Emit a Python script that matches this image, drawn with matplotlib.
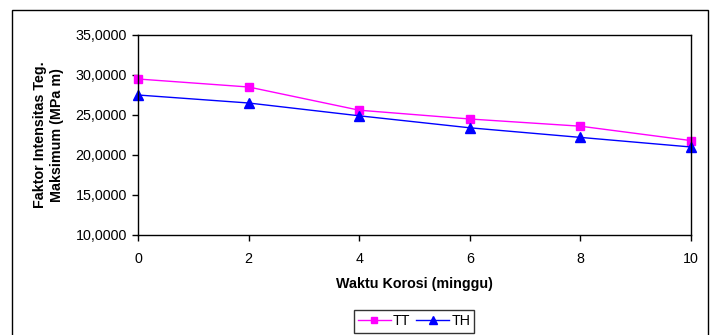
import matplotlib
matplotlib.use("Agg")
import matplotlib.pyplot as plt
from matplotlib.patches import Rectangle
from matplotlib.ticker import FuncFormatter

weeks = [0, 2, 4, 6, 8, 10]
tt = [29.5, 28.5, 25.6, 24.5, 23.6, 21.8]
th = [27.5, 26.5, 24.9, 23.4, 22.2, 21.0]

plt.rcParams['font.family'] = ['Liberation Sans', 'DejaVu Sans']

W, H = 716, 335
fs = 10.3
fig = plt.figure(figsize=(W / 100, H / 100), dpi=100)
ax = fig.add_axes([138 / W, 1 - 235 / H, (691 - 138) / W, 200 / H])

ax.plot(weeks, tt, color='#FF00FF', marker='s', markersize=5.5, linewidth=1, label='TT', clip_on=False)
ax.plot(weeks, th, color='#0000FF', marker='^', markersize=6.5, linewidth=1, label='TH', clip_on=False)

ax.set_xlim(0, 10)
ax.set_ylim(10, 35)
ax.set_xticks(range(0, 11, 2))
ax.set_yticks(range(10, 36, 5))
ax.yaxis.set_major_formatter(FuncFormatter(lambda v, p: f"{v:.4f}".replace('.', ',')))
ax.tick_params(direction='out', length=4, width=1, labelsize=fs, pad=4)
ax.tick_params(axis='x', pad=8)
for s in ax.spines.values():
    s.set_linewidth(1)
    s.set_color('black')

ax.set_xlabel('Waktu Korosi (minggu)', fontsize=fs, fontweight='bold', labelpad=8)
ax.set_ylabel('Faktor Intensitas Teg.\nMaksimum (MPa m)', fontsize=fs, fontweight='bold',
              labelpad=8, linespacing=1.35)

# outer chart frame
fig.patches.append(Rectangle((12 / W, -0.1), (708 - 12) / W, 1.1 - 10 / H, transform=fig.transFigure,
                             fill=False, edgecolor='black', linewidth=1, clip_on=False))

leg = fig.legend(loc='upper center', bbox_to_anchor=(414 / W, 1 - 310 / H), ncol=2, fontsize=fs,
                 frameon=True, fancybox=False, edgecolor='black', handlelength=2.3,
                 columnspacing=0.4, handletextpad=0.15, borderpad=0.3, borderaxespad=0,
                 markerscale=0.85)
leg.get_frame().set_linewidth(1)

fig.savefig('out.png', dpi=100)
